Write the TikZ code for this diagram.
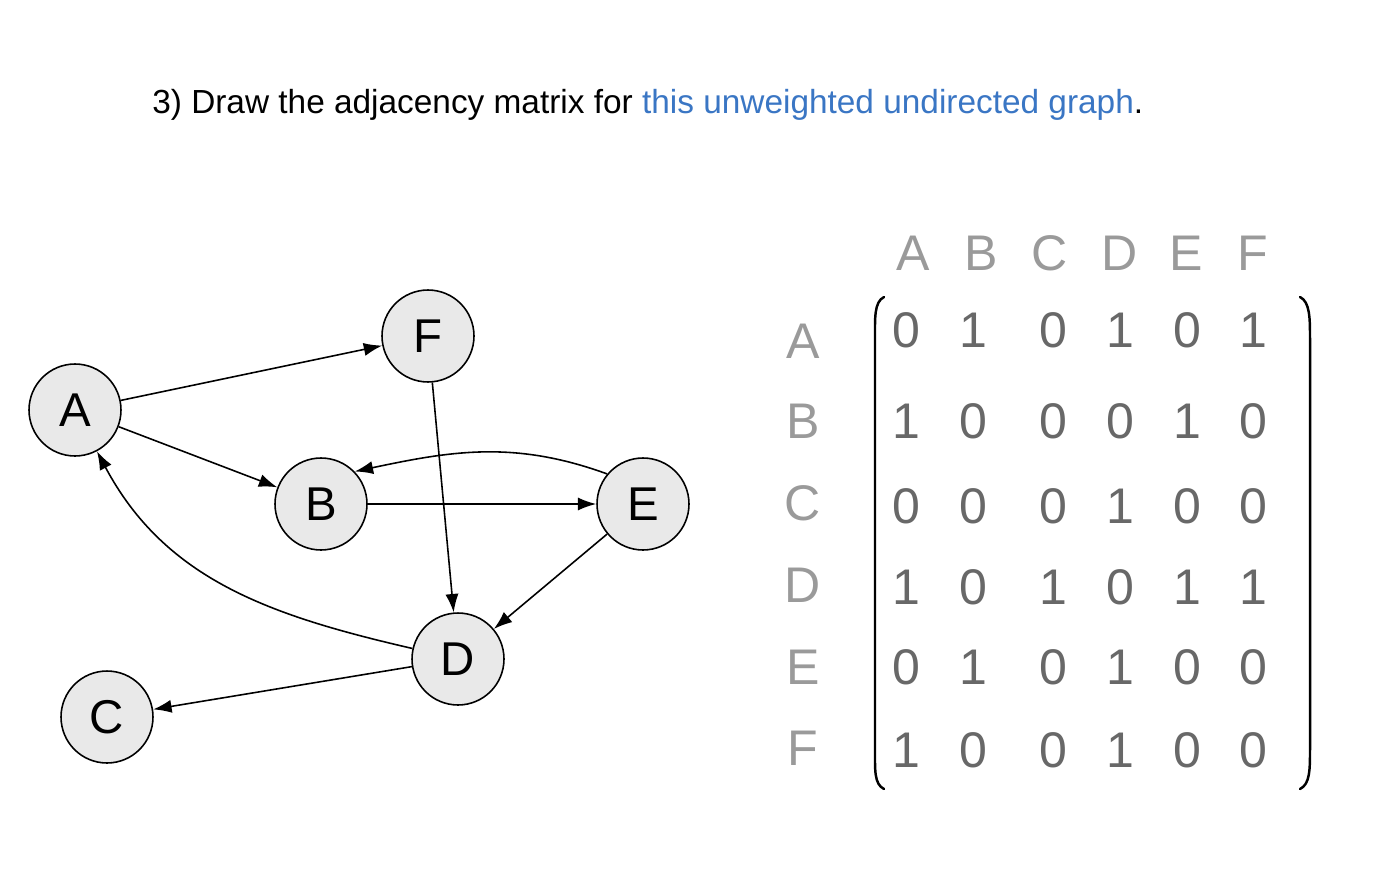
\documentclass[tikz,border=0pt]{standalone}
\usepackage{fontspec}
\setmainfont{Liberation Sans}
\usetikzlibrary{arrows.meta, positioning}

\definecolor{linkblue}{HTML}{3A76C4}
\definecolor{lblgray}{HTML}{9A9A9A}
\definecolor{numgray}{HTML}{686868}
\definecolor{vfill}{HTML}{E9E9E9}

\begin{document}
\begin{tikzpicture}[
    x=0.02cm, y=-0.02cm,
    vertex/.style={circle, draw, line width=0.9pt, fill=vfill, minimum size=1.84cm, inner sep=0pt, font=\fontsize{27}{29}\selectfont},
    arrow/.style={-{Latex[length=10.5pt, width=7.5pt]}, line width=0.9pt},
    hdr/.style={text=lblgray, font=\fontsize{28.5}{30}\selectfont, inner sep=0pt},
    entry/.style={text=numgray, font=\fontsize{28.5}{30}\selectfont, inner sep=0pt},
    paren/.style={line width=1.4pt, line cap=round}
]
    \useasboundingbox (0,0) rectangle (1385,882);

    % question
    \node[anchor=base west, inner sep=0pt, font=\fontsize{19}{21}\selectfont] (question) at (152,113)
        {3) Draw the adjacency matrix for \textcolor{linkblue}{this unweighted undirected graph}.};

    % graph
    \node[vertex] (A) at (75,410) {A};
    \node[vertex] (F) at (428,336) {F};
    \node[vertex] (B) at (321,504) {B};
    \node[vertex] (E) at (643,504) {E};
    \node[vertex] (D) at (458,659) {D};
    \node[vertex] (C) at (107,717) {C};

    \draw[arrow] (A) -- (F);
    \draw[arrow] (A) -- (B);
    \draw[arrow] (B) -- (E);
    \draw[arrow] (E.140) to[out=160, in=12] (B.44);
    \draw[arrow] (F) -- (D);
    \draw[arrow] (E) -- (D);
    \draw[arrow] (D) to[out=167, in=-62] (A);
    \draw[arrow] (D) -- (C);

    % column labels
    \node[hdr] (colA) at (913,253) {A};
    \node[hdr] (colB) at (981,253) {B};
    \node[hdr] (colC) at (1050,253) {C};
    \node[hdr] (colD) at (1120,253) {D};
    \node[hdr] (colE) at (1186,253) {E};
    \node[hdr] (colF) at (1253,253) {F};

    % rows
    \foreach \r/\y/\ya/\a/\b/\c/\d/\e/\f in {
        A/330/341/0/1/0/1/0/1,
        B/421/421/1/0/0/0/1/0,
        C/506/503/0/0/0/1/0/0,
        D/587/585/1/0/1/0/1/1,
        E/667/667/0/1/0/1/0/0,
        F/750/748/1/0/0/1/0/0} {
        \node[hdr] (row\r) at (803,\ya) {\r};
        \node[entry] (m\r1) at (906,\y) {\a};
        \node[entry] (m\r2) at (973,\y) {\b};
        \node[entry] (m\r3) at (1053,\y) {\c};
        \node[entry] (m\r4) at (1120,\y) {\d};
        \node[entry] (m\r5) at (1187,\y) {\e};
        \node[entry] (m\r6) at (1253,\y) {\f};
    }

    % brackets
    \draw[paren] (884,297) .. controls (874,302) and (875,318) .. (875,340) -- (875,748) .. controls (875,770) and (874,784) .. (884,789);
    \draw[paren] (1300,297) .. controls (1310,302) and (1310,318) .. (1310,340) -- (1310,748) .. controls (1310,770) and (1310,784) .. (1300,789);
\end{tikzpicture}
\end{document}
